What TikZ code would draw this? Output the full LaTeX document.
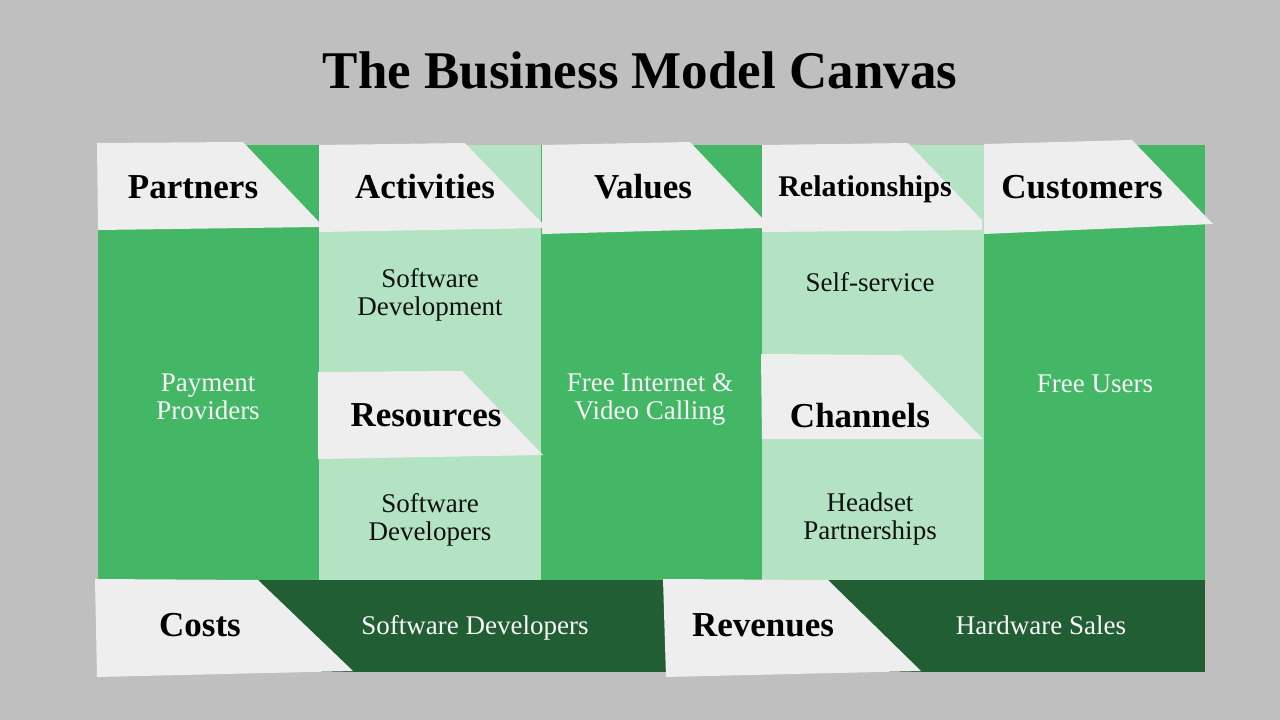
\documentclass[tikz,border=0pt]{standalone}
\usepackage{fontspec}
\setmainfont{Liberation Serif}
\definecolor{bgray}{HTML}{BFBFBF}
\definecolor{midgreen}{HTML}{44B766}
\definecolor{lightgreen}{HTML}{B3E3C2}
\definecolor{darkgreen}{HTML}{225E34}
\definecolor{paper}{HTML}{EEEEEE}
\definecolor{ink}{HTML}{111111}
\definecolor{snow}{HTML}{F7F7F7}

\begin{document}
\begin{tikzpicture}[x=1pt,y=-1pt,
 head/.style={anchor=base,text=black,font=\fontsize{35}{35}\selectfont\bfseries},
 body/.style={anchor=base,align=center,font=\fontsize{27}{28}\selectfont},
 tag/.style={fill=paper}]
 % page and blocks
 \fill[bgray] (0,0) rectangle (1280,720);
 \fill[midgreen] (98,145) rectangle (319,580);
 \fill[lightgreen] (319,145) rectangle (541,580);
 \fill[midgreen] (541,145) rectangle (762,580);
 \fill[lightgreen] (762,145) rectangle (984,580);
 \fill[midgreen] (984,145) rectangle (1205,580);
 \fill[darkgreen] (98,580) rectangle (1205,672);
 % label cards
 \fill[tag] (97,143)--(243,142)--(319,222)--(319,227)--(98,230)--cycle;
 \fill[tag] (319,145)--(465,143)--(542,223)--(542,228)--(319,232)--cycle;
 \fill[tag] (542,145)--(690,142)--(762,218)--(762,228)--(542,234)--cycle;
 \fill[tag] (762,145)--(908,143)--(982,220)--(982,230)--(762,232)--cycle;
 \fill[tag] (984,144)--(1132,140)--(1213,224)--(984,234)--cycle;
 \fill[tag] (318,372)--(462,371)--(543,455)--(318,459)--cycle;
 \fill[tag] (761,354)--(901,355)--(983,439)--(762,439)--cycle;
 \fill[tag] (95,579)--(258,580)--(353,671)--(97,677)--cycle;
 \fill[tag] (663,579)--(828,580)--(921,671)--(666,677)--cycle;
 % texts (two-line texts sit on their last baseline)
 \node[anchor=base,font=\fontsize{53}{53}\selectfont\bfseries] (title) at (640,88) {The Business Model Canvas};
 \node[head] (partners) at (193,198) {Partners};
 \node[head] (activities) at (425,198) {Activities};
 \node[head] (values) at (643,198) {Values};
 \node[head,font=\fontsize{30}{30}\selectfont\bfseries] (relations) at (865,196) {Relationships};
 \node[head] (customers) at (1082,198) {Customers};
 \node[head] (resources) at (426,426) {Resources};
 \node[head] (channels) at (860,427) {Channels};
 \node[head] (costs) at (200,636) {Costs};
 \node[head] (revenues) at (763,636) {Revenues};
 \node[body,text=snow] (partnerstxt) at (208,419) {Payment\\Providers};
 \node[body,text=ink] (activitiestxt) at (430,315) {Software\\Development};
 \node[body,text=ink] (resourcestxt) at (430,540) {Software\\Developers};
 \node[body,text=snow] (valuestxt) at (650,419) {Free Internet \&\\Video Calling};
 \node[body,text=ink] (relationstxt) at (870,291) {Self-service};
 \node[body,text=ink] (channelstxt) at (870,539) {Headset\\Partnerships};
 \node[body,text=snow] (customerstxt) at (1095,392) {Free Users};
 \node[body,text=snow] (coststxt) at (475,634) {Software Developers};
 \node[body,text=snow] (revenuestxt) at (1041,634) {Hardware Sales};
\end{tikzpicture}
\end{document}
